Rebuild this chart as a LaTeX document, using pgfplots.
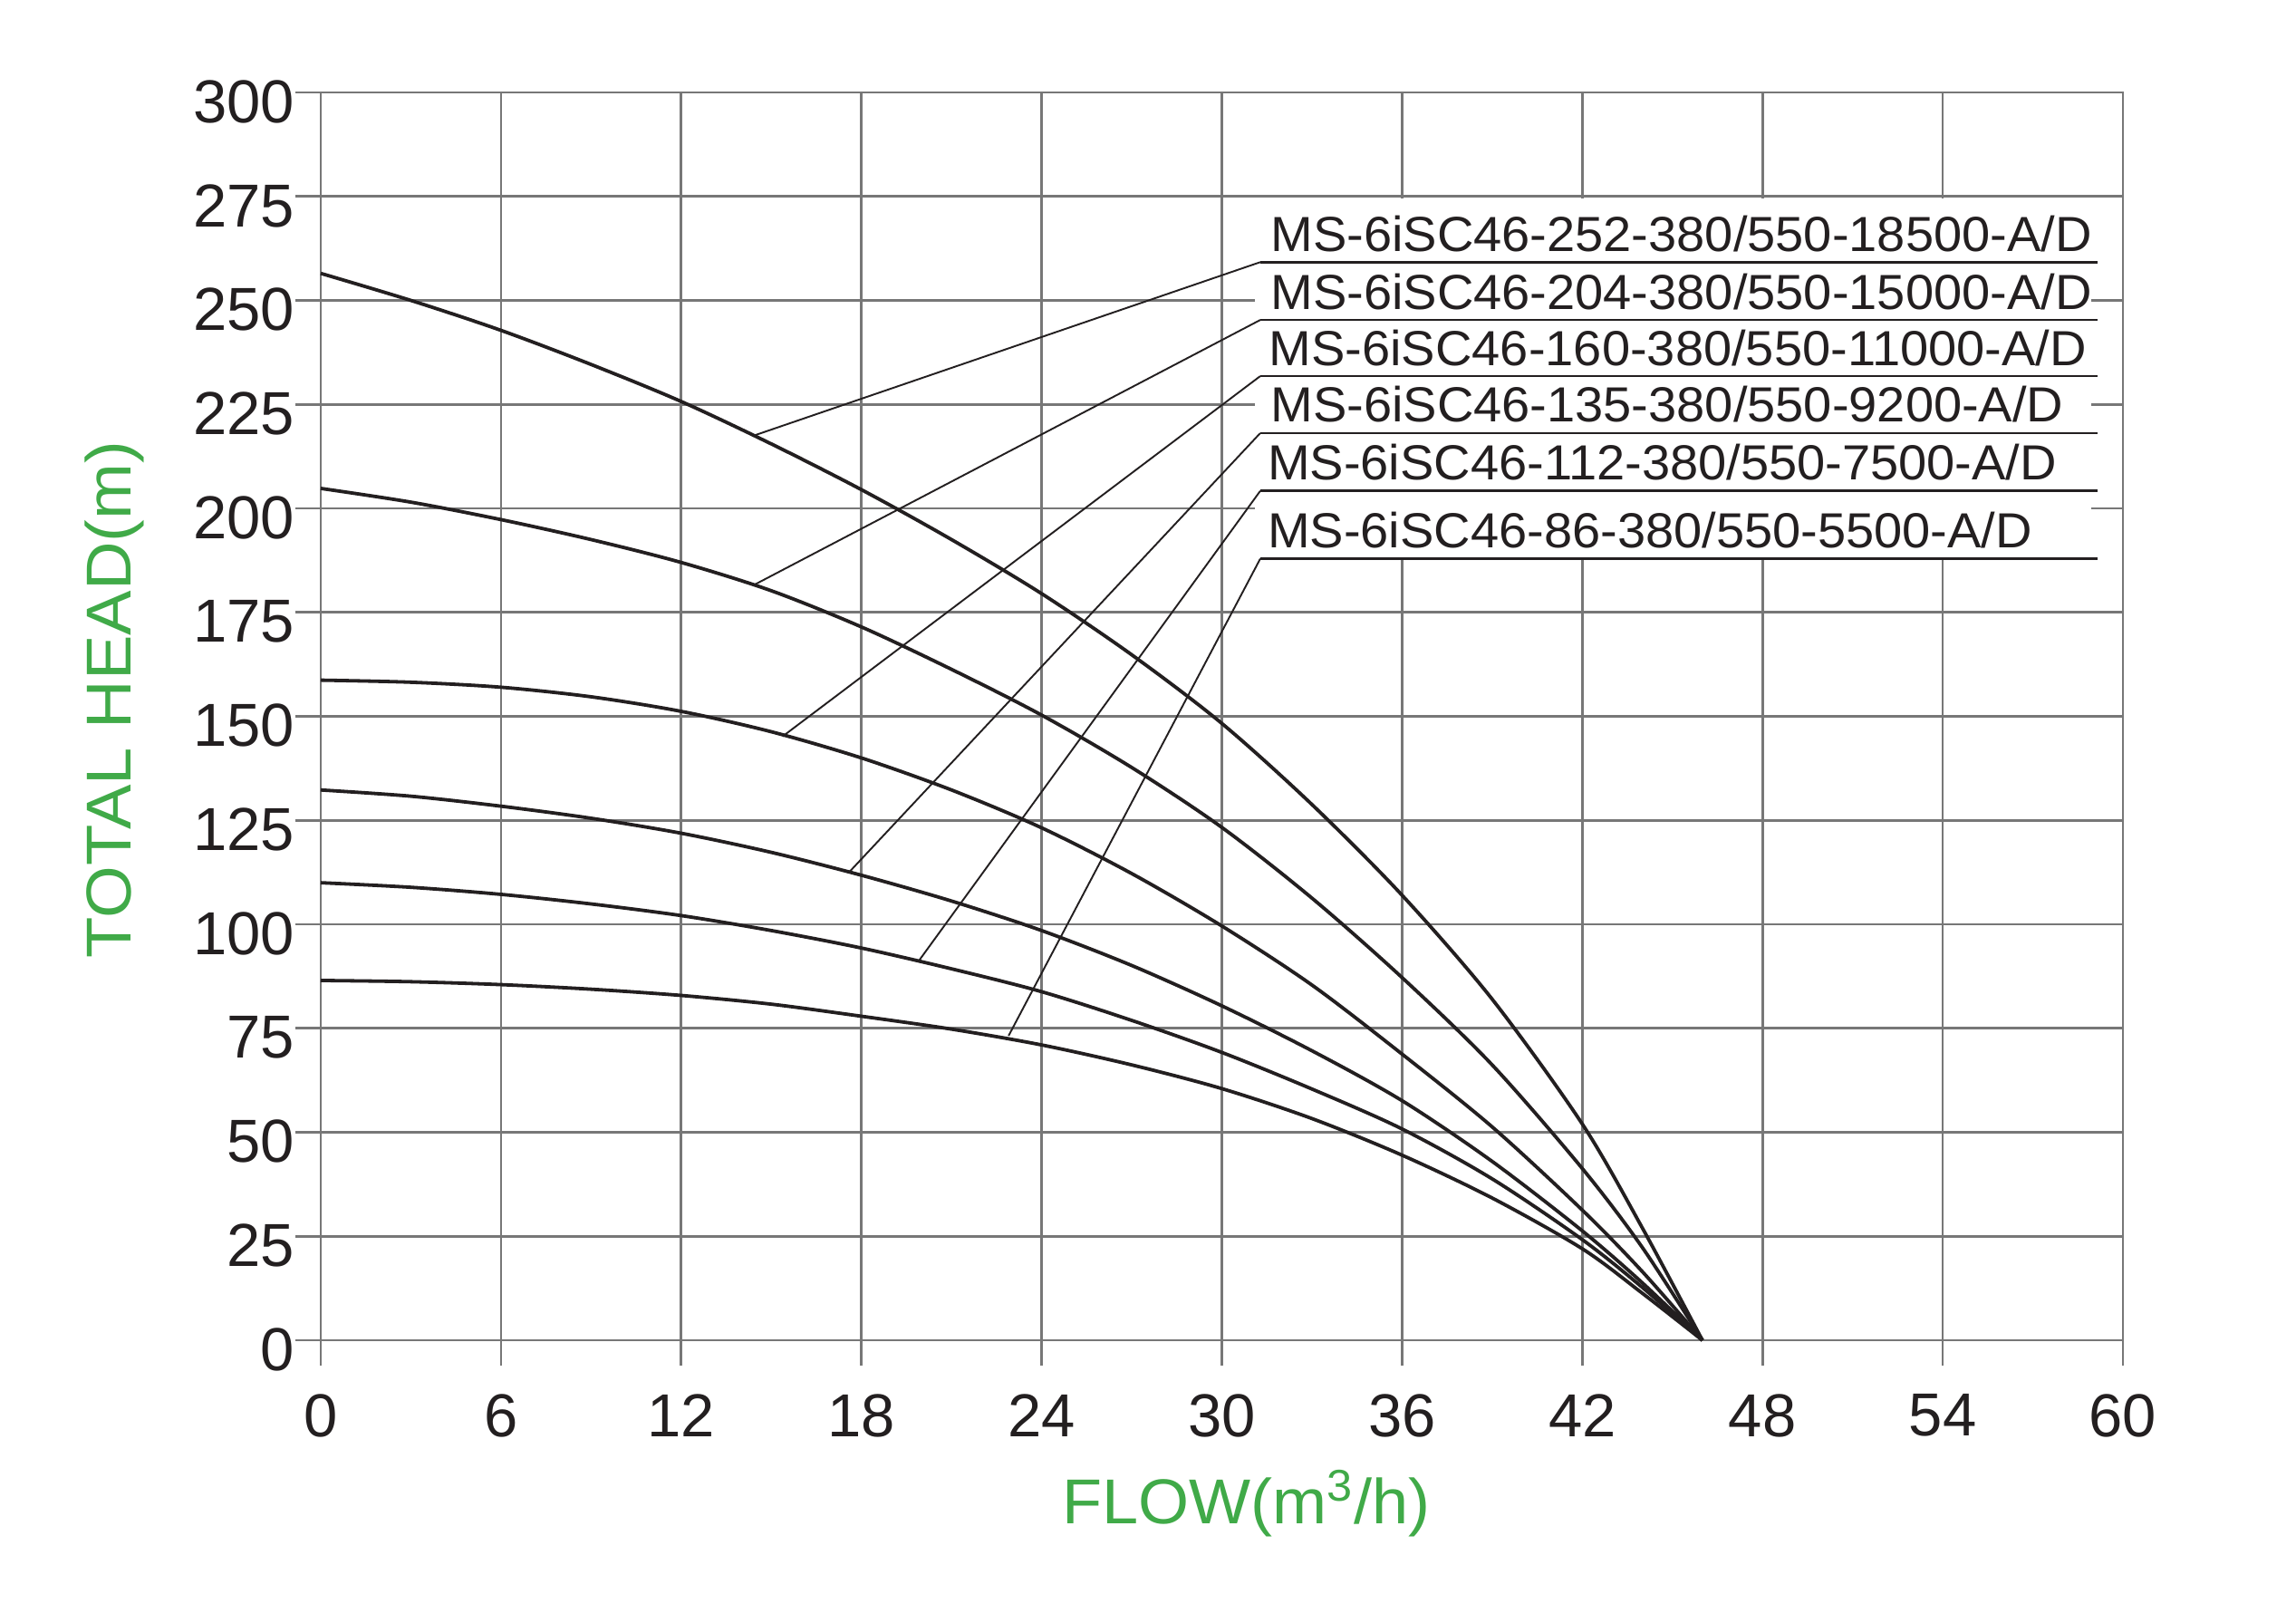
\documentclass[border=0pt]{standalone}
\usepackage{fontspec}
\setmainfont{Liberation Sans}
\usepackage{graphicx}
\usepackage{pgfplots}
\pgfplotsset{compat=1.18}
\usetikzlibrary{calc}
\definecolor{gridgray}{RGB}{119,119,119}
\definecolor{ink}{RGB}{35,31,32}
\definecolor{lblgreen}{RGB}{64,170,72}
\begin{document}
\begin{tikzpicture}
\fill[white] (-88.5pt,-75pt) rectangle (545pt,369.75pt);
\begin{axis}[
  at={(0,0)}, anchor=south west,
  scale only axis, width=497.25pt, height=344.25pt,
  xmin=0, xmax=60, ymin=0, ymax=300,
  xtick={0,6,...,60}, ytick={0,25,...,300},
  grid=major,
  grid style={gridgray, line width=0.67pt},
  axis line style={gridgray, line width=0.67pt},
  tick style={gridgray, line width=0.67pt},
  major tick length=7pt,
  tick align=outside,
  tick pos=left,
  /pgf/number format/assume math mode=true,
  ticklabel style={font=\fontsize{16.75}{20}\selectfont, text=ink},
  yticklabel style={anchor=east, inner sep=0pt, yshift=-2.6pt},
  xticklabel style={anchor=north, inner sep=0pt, yshift=-7.7pt},
  clip=false,
]
% white box behind the model labels
\fill[white] (axis cs:31.1,187.6) rectangle (axis cs:58.95,274.6);

% curves
\addplot[ink, line width=0.95pt, smooth] coordinates {(0,256.5)(3,250)(6,242.8)(9,234.6)(12,225.7)(15,215.5)(18,204.5)(21,192.5)(24,179.5)(27,164.8)(30,148.3)(33,128.8)(36,107)(39,82)(42,52)(44,27)(46,0)};
\addplot[ink, line width=0.95pt, smooth] coordinates {(0,204.8)(3,201.5)(6,197.3)(9,192.5)(12,187)(15,180.2)(18,171.5)(21,161.3)(24,150.3)(27,137.7)(30,123.3)(33,106.3)(36,87.2)(39,66.2)(42,41.3)(44,22.3)(46,0)};
\addplot[ink, line width=0.95pt, smooth] coordinates {(0,158.7)(3,158.2)(6,157)(9,154.7)(12,151.2)(15,146.3)(18,140)(21,132.3)(24,123.2)(27,112.2)(30,99.6)(33,85.4)(36,68.8)(39,51.3)(42,31.3)(44,16.5)(46,0)};
\addplot[ink, line width=0.95pt, smooth] coordinates {(0,132.3)(3,130.8)(6,128.4)(9,125.5)(12,121.9)(15,117.3)(18,111.8)(21,105.6)(24,98.5)(27,90.1)(30,80.4)(33,69.6)(36,57.6)(39,43)(42,26.3)(44,13.8)(46,0)};
\addplot[ink, line width=0.95pt, smooth] coordinates {(0,110)(3,108.9)(6,107.2)(9,104.9)(12,102.1)(15,98.5)(18,94.3)(21,89.3)(24,83.8)(27,76.9)(30,69.2)(33,60.4)(36,50.8)(39,38.8)(42,24.2)(44,12.7)(46,0)};
\addplot[ink, line width=0.95pt, smooth] coordinates {(0,86.5)(3,86.2)(6,85.5)(9,84.4)(12,82.9)(15,80.8)(18,77.9)(21,74.8)(24,71)(27,66.2)(30,60.5)(33,53.3)(36,44.5)(39,34.2)(42,22)(44,11.3)(46,0)};

% leader lines with underlines
\addplot[ink, line width=0.48pt] coordinates {(14.46,217.6)(31.28,259.2)};
\addplot[ink, line width=0.48pt] coordinates {(14.4,181.5)(31.28,245.3)};
\addplot[ink, line width=0.48pt] coordinates {(15.38,145.2)(31.28,231.8)};
\addplot[ink, line width=0.48pt] coordinates {(17.6,112.6)(31.28,218.1)};
\addplot[ink, line width=0.48pt] coordinates {(19.9,91.1)(31.28,204.2)};
\addplot[ink, line width=0.48pt] coordinates {(22.9,73.2)(31.28,187.9)};
\addplot[ink, line width=0.62pt] coordinates {(31.28,259.2)(59.16,259.2)};
\addplot[ink, line width=0.62pt] coordinates {(31.28,245.3)(59.16,245.3)};
\addplot[ink, line width=0.62pt] coordinates {(31.28,231.8)(59.16,231.8)};
\addplot[ink, line width=0.62pt] coordinates {(31.28,218.1)(59.16,218.1)};
\addplot[ink, line width=0.62pt] coordinates {(31.28,204.2)(59.16,204.2)};
\addplot[ink, line width=0.62pt] coordinates {(31.28,187.9)(59.16,187.9)};

% model labels
\begin{scope}[every node/.style={anchor=base west, inner sep=0pt, text=ink, font=\fontsize{13.6}{16}\selectfont}]
\node at (axis cs:31.6,261.8) {\scalebox{1.03}[1]{MS-6iSC46-252-380/550-18500-A/D}};
\node at (axis cs:31.6,247.9) {\scalebox{1.03}[1]{MS-6iSC46-204-380/550-15000-A/D}};
\node at (axis cs:31.55,234.4) {\scalebox{1.03}[1]{MS-6iSC46-160-380/550-11000-A/D}};
\node at (axis cs:31.6,220.7) {\scalebox{1.03}[1]{MS-6iSC46-135-380/550-9200-A/D}};
\node at (axis cs:31.5,206.8) {\scalebox{1.03}[1]{MS-6iSC46-112-380/550-7500-A/D}};
\node at (axis cs:31.5,190.6) {\scalebox{1.03}[1]{MS-6iSC46-86-380/550-5500-A/D}};
\end{scope}

% axis titles
\node[rotate=90, anchor=base, inner sep=0pt, text=lblgreen, font=\fontsize{17.5}{20}\selectfont]
  at ($(axis description cs:0,0.5134)+(-52.25pt,0pt)$) {\scalebox{1.06}[1]{TOTAL HEAD(m)}};
\node[anchor=base, inner sep=0pt, text=lblgreen, font=\fontsize{17.5}{20}\selectfont]
  at ($(axis description cs:0.5135,0)+(0pt,-50.7pt)$) {\scalebox{1.03}[1]{FLOW(m\textsuperscript{3}/h)}};
\end{axis}
\pgfresetboundingbox
\path (-88.5pt,-75pt) rectangle (545pt,369.75pt);
\end{tikzpicture}
\end{document}
